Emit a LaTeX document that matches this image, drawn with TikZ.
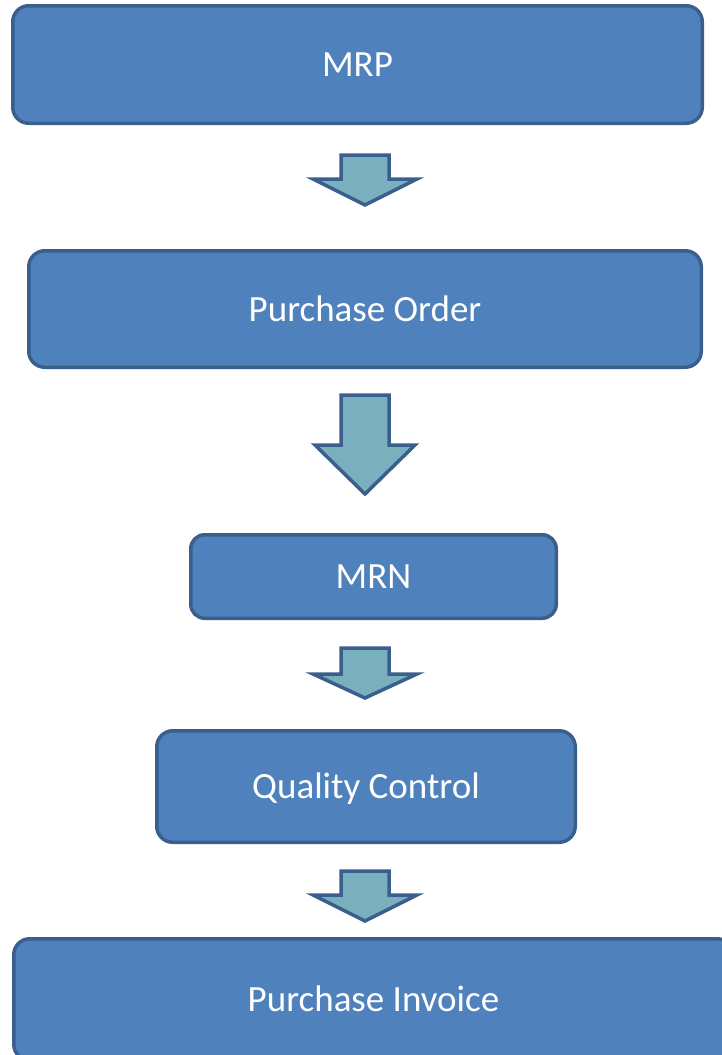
\documentclass[tikz,border=0pt]{standalone}
\usepackage{fontspec}
\setmainfont{Carlito}
\definecolor{boxfill}{HTML}{4F81BD}
\definecolor{boxline}{HTML}{3A5F8D}
\definecolor{arrowfill}{HTML}{7AAFBE}
\tikzset{
  stepbox/.style={draw=boxline, fill=boxfill, line width=3.5pt,
    rounded corners=16pt, text=white, inner sep=0pt,
    font=\fontsize{37}{42}\selectfont, text height=24pt, text depth=0pt},
  flowarrow/.style={draw=boxline, fill=arrowfill, line width=3.5pt}
}
\begin{document}
\begin{tikzpicture}[x=1pt, y=-1pt]
  \useasboundingbox (0,0) rectangle (721,1055);

  % Steps of the flow
  \node[stepbox, minimum width=689.5pt, minimum height=117.5pt] (mrp) at (357.5,64.5) {MRP};
  \node[stepbox, minimum width=672.5pt, minimum height=116.5pt] (po) at (365,309) {Purchase Order};
  \node[stepbox, minimum width=365.5pt, minimum height=83.5pt, rounded corners=14pt] (mrn) at (373.5,576.5) {MRN};
  \node[stepbox, minimum width=418.5pt, minimum height=111.5pt] (qc) at (366,786.5) {Quality Control};
  \node[stepbox, minimum width=719.5pt, minimum height=121.5pt] (pi) at (373.5,999.5) {Purchase Invoice};

  % Block arrows between the steps
  \draw[flowarrow] (341,155) -- (389,155) -- (389,179) -- (417,179) -- (365,205) -- (313,179) -- (341,179) -- cycle;
  \draw[flowarrow] (341,395) -- (389,395) -- (389,445) -- (415,445) -- (365,494) -- (315,445) -- (341,445) -- cycle;
  \draw[flowarrow] (341,648) -- (389,648) -- (389,674) -- (417,674) -- (365,698) -- (313,674) -- (341,674) -- cycle;
  \draw[flowarrow] (341,871) -- (389,871) -- (389,895) -- (417,895) -- (365,921) -- (313,895) -- (341,895) -- cycle;
\end{tikzpicture}
\end{document}
